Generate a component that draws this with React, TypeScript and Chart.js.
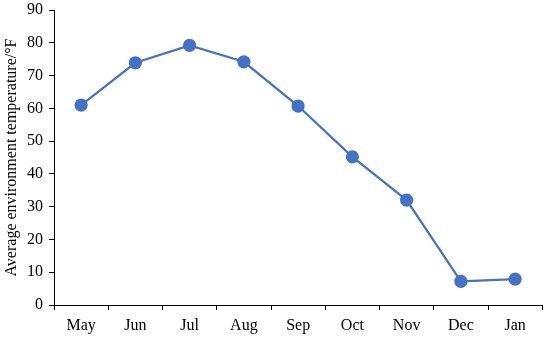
import React, { useEffect, useRef } from "react";
import { Chart, registerables } from "chart.js";

Chart.register(...registerables);

const months = ["May", "Jun", "Jul", "Aug", "Sep", "Oct", "Nov", "Dec", "Jan"];
const temperatures = [61.0, 73.9, 79.2, 74.2, 60.7, 45.2, 32.0, 7.2, 7.9];
const yTitle = "Average environment temperature/\u00B0F";

const FONT = "'Liberation Serif', 'Times New Roman', serif";
const BLUE = "#4472C4";

export default function App() {
  const ref = useRef<HTMLCanvasElement | null>(null);

  useEffect(() => {
    document.body.style.margin = "0";
    const ctx = ref.current!.getContext("2d")!;
    const chart = new Chart(ctx, {
      type: "line",
      data: {
        labels: months,
        datasets: [
          {
            data: temperatures,
            borderColor: BLUE,
            backgroundColor: BLUE,
            borderWidth: 2.25,
            pointRadius: 5.5,
            pointBackgroundColor: BLUE,
            pointBorderColor: BLUE,
            tension: 0,
          },
        ],
      },
      options: {
        animation: false,
        responsive: false,
        maintainAspectRatio: false,
        layout: { padding: { top: 10, right: 7, left: 0, bottom: 0 } },
        plugins: { legend: { display: false }, tooltip: { enabled: false } },
        scales: {
          x: {
            type: "category",
            offset: true,
            grid: {
              display: true,
              offset: true,
              drawOnChartArea: false,
              drawTicks: true,
              tickLength: 5,
              color: "#000",
            },
            border: { display: true, color: "#000", width: 1 },
            ticks: {
              color: "#000",
              font: { family: FONT, size: 16 },
              padding: 6,
              maxRotation: 0,
            },
            afterFit: (scale: any) => {
              scale.height = 34;
              scale.paddingLeft = 0;
              scale.paddingRight = 0;
            },
          },
          y: {
            min: 0,
            max: 90,
            grid: {
              display: true,
              drawOnChartArea: false,
              drawTicks: true,
              tickLength: 5,
              color: "#000",
            },
            border: { display: true, color: "#000", width: 1 },
            ticks: {
              stepSize: 10,
              color: "#000",
              font: { family: FONT, size: 16 },
              padding: 6,
            },
            title: {
              display: true,
              text: yTitle,
              color: "#000",
              font: { family: FONT, size: 16 },
              padding: { top: 2, bottom: 0 },
            },
            afterFit: (scale: any) => {
              scale.width = 54;
              scale.paddingTop = 0;
              scale.paddingBottom = 0;
            },
          },
        },
      },
    });
    return () => chart.destroy();
  }, []);

  return (
    <div style={{ position: "absolute", left: 0, top: 0, width: 550, height: 339 }}>
      <canvas ref={ref} width={550} height={339} />
    </div>
  );
}
